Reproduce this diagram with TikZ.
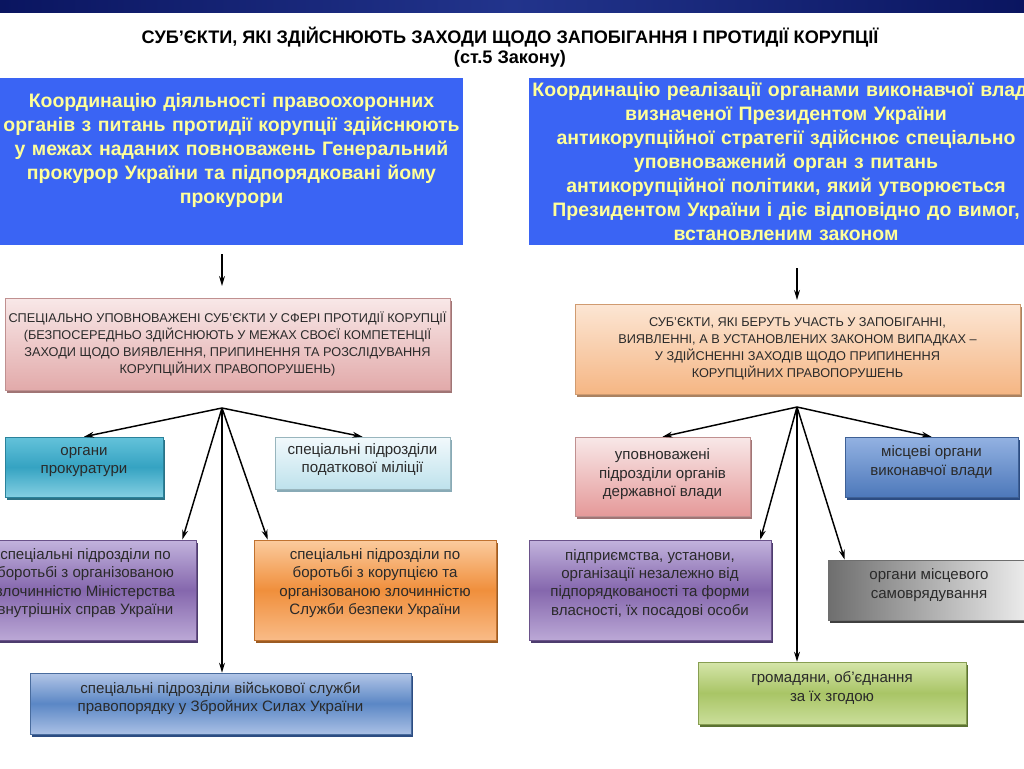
\documentclass[tikz,border=0pt]{standalone}
\usepackage{fontspec}
\setmainfont{Liberation Sans}
\usepackage{tikz}
\usetikzlibrary{arrows.meta,calc,shadows}
\definecolor{bandc}{HTML}{0A1560}
\definecolor{bandl}{HTML}{22348C}
\definecolor{royalc}{HTML}{3A64F4}
\definecolor{yelc}{HTML}{FFFF99}
\definecolor{inkc}{HTML}{2A2A2A}
\definecolor{pinkt}{HTML}{F8E8E8}
\definecolor{pinkb}{HTML}{E2AAAA}
\definecolor{pinks}{HTML}{A07575}
\definecolor{peacht}{HTML}{FCE6D4}
\definecolor{peachb}{HTML}{F5B684}
\definecolor{peachs}{HTML}{A98262}
\definecolor{tealt}{HTML}{64C2DA}
\definecolor{tealm}{HTML}{35A3C2}
\definecolor{tealb}{HTML}{84CFE2}
\definecolor{teals}{HTML}{2C7285}
\definecolor{icet}{HTML}{F2F9FC}
\definecolor{iceb}{HTML}{BEE2EC}
\definecolor{ices}{HTML}{88AAB6}
\definecolor{purt}{HTML}{C2B3DD}
\definecolor{purm}{HTML}{8567AD}
\definecolor{purb}{HTML}{BBA8D6}
\definecolor{purs}{HTML}{4D3C6E}
\definecolor{orat}{HTML}{FBCB9E}
\definecolor{oram}{HTML}{F08F3C}
\definecolor{orab}{HTML}{F9BB87}
\definecolor{oras}{HTML}{9B5B22}
\definecolor{blut}{HTML}{B3C6E7}
\definecolor{blum}{HTML}{5B87C5}
\definecolor{blub}{HTML}{AAC0E5}
\definecolor{blus}{HTML}{2C4C82}
\definecolor{rblt}{HTML}{93B2E2}
\definecolor{rblb}{HTML}{4D78BA}
\definecolor{grnt}{HTML}{D5E5AA}
\definecolor{grnm}{HTML}{A9C566}
\definecolor{grnb}{HTML}{CADE9A}
\definecolor{grns}{HTML}{5B7232}
\definecolor{gryl}{HTML}{6E6E6E}
\definecolor{gryr}{HTML}{EEEEEE}
\definecolor{grys}{HTML}{3F3F3F}
\tikzset{
  >={Stealth[length=7.5pt,width=4.4pt]},
  arr/.style={->,line width=1.1pt,draw=black},
  ttl/.style={font=\bfseries\fontsize{13.6}{15}\selectfont,align=center,text=black},
  hbox/.style={fill=royalc,text=yelc,font=\bfseries\fontsize{14.6}{18}\selectfont,align=center,inner sep=0pt},
  shd/.style={drop shadow={shadow xshift=1.5pt,shadow yshift=-2.2pt,opacity=1,fill=#1}},
  gbox/.style={align=center,text=inkc,inner sep=0pt,line width=0.4pt,font=\fontsize{11.3}{13.8}\selectfont},
  capbox/.style={gbox,font=\fontsize{9.55}{12.8}\selectfont},
  pnk/.style={capbox,top color=pinkt,bottom color=pinkb,draw=pinkb!85!black,shd=pinks},
  pch/.style={capbox,top color=peacht,bottom color=peachb,draw=peachb!85!black,shd=peachs},
  tea/.style={gbox,top color=tealt,bottom color=tealb,middle color=tealm,draw=tealm!80!black,shd=teals},
  ice/.style={gbox,top color=icet,bottom color=iceb,draw=iceb!80!black,shd=ices},
  pur/.style={gbox,top color=purt,bottom color=purb,middle color=purm,draw=purm!80!black,shd=purs},
  org/.style={gbox,top color=orat,bottom color=orab,middle color=oram,draw=oram!80!black,shd=oras},
  blu/.style={gbox,top color=blut,bottom color=blub,middle color=blum,draw=blum!80!black,shd=blus},
  rbl/.style={gbox,top color=rblt,bottom color=rblb,draw=rblb!80!black,shd=blus},
  rpk/.style={gbox,top color=pinkt,bottom color=pinkb!90!red,draw=pinkb!85!black,shd=pinks},
  gry/.style={gbox,left color=gryl,right color=gryr,draw=gryl,shd=grys},
  grn/.style={gbox,top color=grnt,bottom color=grnb,middle color=grnm,draw=grnm!80!black,shd=grns},
}
\newcommand{\pbox}[6][]{\node[#1,minimum width=#4*0.75pt,minimum height=#5*0.75pt] (#2) at (#3) {#6};}
\newcommand{\vpad}[1]{\\[#1]\mbox{}}

\begin{document}
\begin{tikzpicture}[x=0.75pt,y=-0.75pt]
  \path[use as bounding box,fill=white] (0,0) rectangle (1024,768);
  \clip (0,0) rectangle (1024,768);
  \fill[left color=bandc,right color=bandc,middle color=bandl] (0,0) rectangle (1024,12);
  \node[ttl] (title) at (510,47) {СУБ’ЄКТИ, ЯКІ ЗДІЙСНЮЮТЬ ЗАХОДИ ЩОДО ЗАПОБІГАННЯ І ПРОТИДІЇ КОРУПЦІЇ\\(ст.5 Закону)};

  \pbox[hbox,text width=347pt]{coordL}{231.5,161.5}{463}{167}{Координацію діяльності правоохоронних\\органів з питань протидії корупції здійснюють\\у межах наданих повноважень Генеральний\\прокурор України та підпорядковані йому\\прокурори\vpad{2pt}}
  \pbox[hbox,text width=385.5pt]{coordR}{786,161.5}{514}{167}{Координацію реалізації органами виконавчої влади\\визначеної Президентом України\\антикорупційної стратегії здійснює спеціально\\уповноважений орган з питань\\антикорупційної політики, який утворюється\\Президентом України і діє відповідно до вимог,\\встановленим законом}

  \pbox[pnk]{specL}{227.5,344}{445}{92}{СПЕЦІАЛЬНО УПОВНОВАЖЕНІ СУБ’ЄКТИ У СФЕРІ ПРОТИДІЇ КОРУПЦІЇ\\(БЕЗПОСЕРЕДНЬО ЗДІЙСНЮЮТЬ У МЕЖАХ СВОЄЇ КОМПЕТЕНЦІЇ\\ЗАХОДИ ЩОДО ВИЯВЛЕННЯ, ПРИПИНЕННЯ ТА РОЗСЛІДУВАННЯ\\КОРУПЦІЙНИХ ПРАВОПОРУШЕНЬ)}
  \pbox[pch]{partR}{797.5,349}{445}{90}{СУБ’ЄКТИ, ЯКІ БЕРУТЬ УЧАСТЬ У ЗАПОБІГАННІ,\\ВИЯВЛЕННІ, А В УСТАНОВЛЕНИХ ЗАКОНОМ ВИПАДКАХ –\\У ЗДІЙСНЕННІ ЗАХОДІВ ЩОДО ПРИПИНЕННЯ\\КОРУПЦІЙНИХ ПРАВОПОРУШЕНЬ}

  \pbox[tea]{pros}{84,467}{158}{60}{органи\\прокуратури\vpad{-4pt}}
  \pbox[ice]{taxm}{362.5,463}{175}{52}{спеціальні підрозділи\\податкової міліції\vpad{-6pt}}
  \pbox[pur]{mvs}{85.5,590}{221}{100}{спеціальні підрозділи по\\боротьбі з організованою\\злочинністю Міністерства\\внутрішніх справ України\vpad{-1pt}}
  \pbox[org]{sbu}{375,590}{242}{100}{спеціальні підрозділи по\\боротьбі з корупцією та\\організованою злочинністю\\Служби безпеки України\vpad{-1pt}}
  \pbox[blu]{vsp}{220.5,703.5}{381}{61}{спеціальні підрозділи військової служби\\правопорядку у Збройних Силах України\vpad{-4pt}}

  \pbox[rpk]{upov}{662.5,476.5}{175}{79}{уповноважені\\підрозділи органів\\державної влади\vpad{-8pt}}
  \pbox[rbl]{mvla}{931.5,467}{173}{60}{місцеві органи\\виконавчої влади\vpad{-4pt}}
  \pbox[pur]{pidp}{650,590}{242}{100}{підприємства, установи,\\організації незалежно від\\підпорядкованості та форми\\власності, їх посадові особи\vpad{-2pt}}
  \pbox[gry]{samo}{929,590}{202}{60}{органи місцевого\\самоврядування\vpad{-4pt}}
  \pbox[grn]{grom}{832,693}{268}{62}{громадяни, об’єднання\\за їх згодою\vpad{-4pt}}

  \coordinate (topL) at (222,254);
  \coordinate (botL) at (222,286);
  \coordinate (topR) at (797,268);
  \coordinate (botR) at (797,300);
  \coordinate (fanL) at (222,408);
  \coordinate (fanR) at (797,407);
  \draw[arr] (topL) -- (botL);
  \draw[arr] (topR) -- (botR);
  \foreach \t in {(pros.north),(taxm.north),([xshift=-10.5pt]mvs.north east),([xshift=10.5pt]sbu.north west),(fanL |- vsp.north)}
    \draw[arr] (fanL) -- \t;
  \foreach \t in {(upov.north),(mvla.north),([xshift=-8.25pt]pidp.north east),([xshift=12.75pt]samo.north west),(fanR |- grom.north)}
    \draw[arr] (fanR) -- \t;
\end{tikzpicture}
\end{document}
